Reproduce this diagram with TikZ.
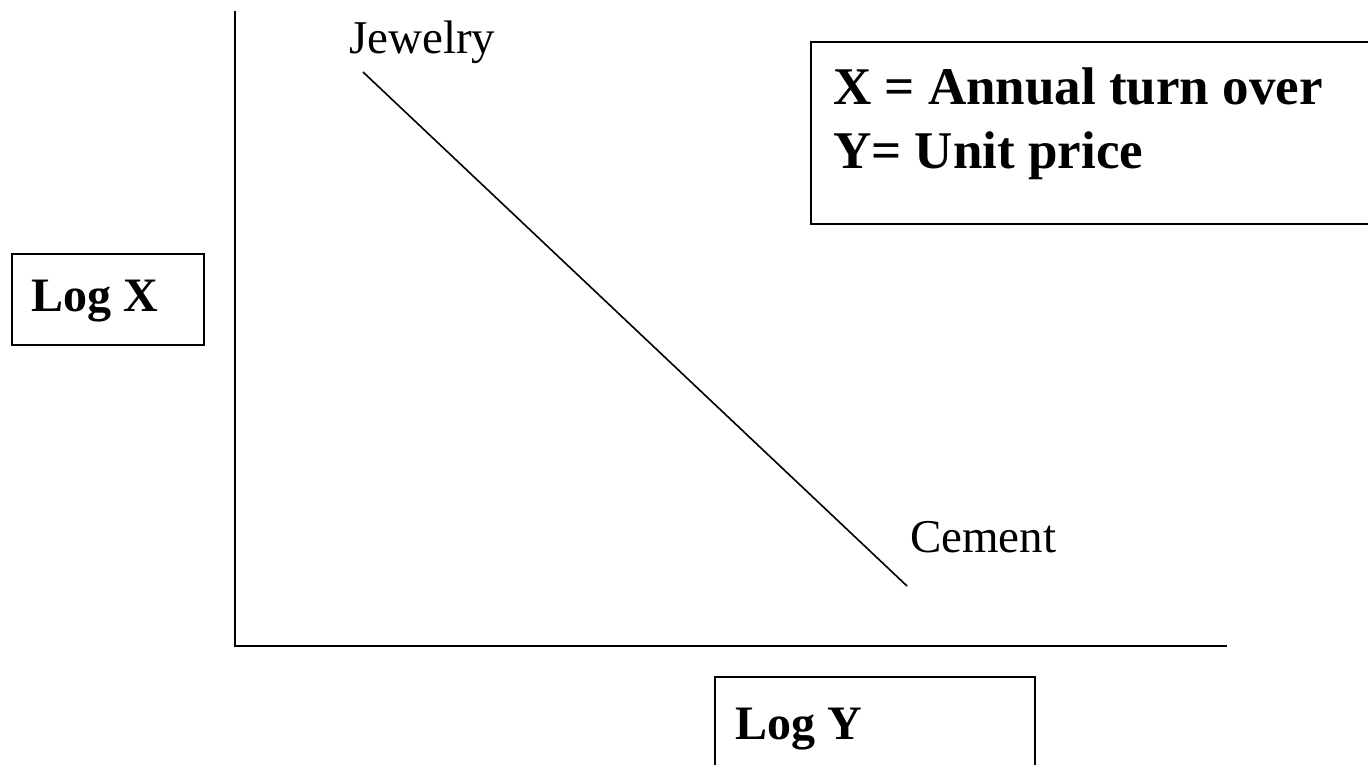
\documentclass[tikz,border=0pt]{standalone}
\usepackage{fontspec}
\setmainfont{Liberation Serif}
\begin{document}
\begin{tikzpicture}[x=1pt,y=-1pt,
  axisline/.style={line width=2pt, line cap=rect},
  trendline/.style={line width=1.6pt},
  framebox/.style={draw, line width=2pt, inner sep=0pt, anchor=north west},
  boldlabel/.style={font=\fontsize{48}{56}\selectfont\bfseries, anchor=base west, inner sep=0pt},
  legendtext/.style={font=\fontsize{53}{64}\selectfont\bfseries, anchor=base west, inner sep=0pt},
  itemtext/.style={font=\fontsize{47}{54}\selectfont, anchor=base west, inner sep=0pt}]
\useasboundingbox (0,0) rectangle (1368,764);
\clip (0,0) rectangle (1368,764);

% axes
\coordinate (origin) at (235,645.5);
\coordinate (ytop) at (235,12);
\coordinate (xend) at (1226,645.5);
\draw[axisline] (ytop) -- (origin) -- (xend);

% price / turnover trend
\coordinate (hi) at (363,72);
\coordinate (lo) at (907,586);
\draw[trendline] (hi) -- (lo);
\node[itemtext] (jewelry) at (349,53) {Jewelry};
\node[itemtext] (cement) at (910,552) {Cement};

% legend box
\node[framebox, minimum width=600, minimum height=182] (legend) at (810,41) {};
\node[legendtext] (xdef) at (833,104) {X = Annual turn over};
\node[legendtext] (ydef) at (833,168) {Y= Unit price};

% axis titles
\node[framebox, minimum width=192, minimum height=91] (logxbox) at (10.7,253.3) {};
\node[boldlabel] (logx) at (31.7,311.7) {Log X};
\node[framebox, minimum width=320, minimum height=140] (logybox) at (714,676) {};
\node[boldlabel] (logy) at (735,739) {Log Y};
\end{tikzpicture}
\end{document}
